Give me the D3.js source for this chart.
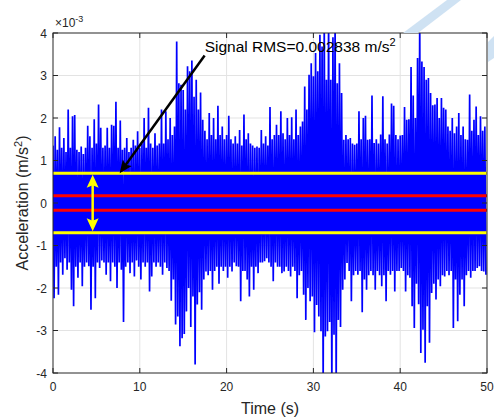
<!DOCTYPE html>
<html>
<head>
<meta charset="utf-8">
<script src="https://cdn.jsdelivr.net/npm/d3@7"></script>
<style>
  html, body { margin: 0; padding: 0; background: #fff; }
  svg { display: block; font-family: "Liberation Sans", Arial, Helvetica, sans-serif; }
</style>
</head>
<body>
<svg id="chart" width="494" height="417"></svg>
<script>
// Peak envelope of the acceleration record, one value per 0.25 s bin (units of 1e-3 m/s^2)
const binWidth = 0.25;
const upperPeaks = [
  1.35, 1.57, 1.25, 1.78,   1.30, 1.53, 1.20, 2.20,   1.30, 2.04, 2.07, 1.25,   1.20, 1.33, 1.15, 1.30,
  1.82, 1.57, 1.30, 1.97,   1.40, 2.32, 1.77, 1.30,   1.35, 1.77, 1.30, 1.84,   1.82, 2.38, 1.30, 1.94,
  1.25, 1.30, 1.53, 1.20,   1.30, 1.49, 1.35, 1.69,   1.30, 1.40, 2.00, 1.30,   2.24, 1.40, 1.30, 1.64,
  1.35, 1.40, 2.20, 1.40,   2.16, 1.50, 2.00, 1.60,   1.80, 3.80, 2.82, 2.78,   2.66, 2.20, 3.22, 3.10,
  3.35, 2.50, 2.90, 2.20,   2.60, 1.96, 1.70, 1.50,   2.12, 1.60, 2.00, 1.50,   2.29, 1.60, 1.80, 1.50,
  1.60, 2.05, 1.50, 1.40,   1.57, 1.40, 1.72, 1.35,   2.08, 1.50, 1.64, 1.40,   1.35, 1.30, 1.33, 1.30,
  1.72, 1.40, 1.57, 1.35,   2.26, 1.50, 1.60, 1.84,   1.60, 2.16, 1.64, 1.50,   2.00, 1.60, 2.02, 1.50,
  2.20, 1.60, 1.80, 1.92,   2.74, 2.20, 3.02, 3.29,   2.98, 3.53, 3.10, 3.96,   3.68, 4.30, 2.90, 4.30,
  2.90, 3.90, 4.30, 2.82,   3.29, 2.59, 1.49, 1.60,   1.50, 1.53, 1.40, 1.37,   1.40, 2.16, 1.50, 2.00,
  2.05, 1.49, 1.50, 2.53,   1.41, 1.50, 1.40, 1.61,   2.51, 1.50, 1.40, 1.61,   2.34, 2.29, 1.60, 1.50,
  1.59, 1.60, 2.26, 1.96,   1.97, 3.20, 2.53, 2.00,   3.41, 4.30, 3.33, 3.20,   2.90, 2.94, 2.59, 2.30,
  2.32, 2.47, 2.00, 2.47,   2.24, 2.20, 1.80, 1.70,   2.00, 1.64, 1.80, 2.12,   1.60, 1.80, 1.50, 1.49,
  2.55, 1.70, 1.96, 2.27,   1.60, 2.04, 1.70, 1.80
];
const lowerPeaks = [
  -2.24, -1.50, -2.16, -1.40,   -1.69, -1.30, -1.57, -1.40,   -2.04, -2.43, -1.50, -1.76,   -1.40, -1.96, -1.50, -1.40,
  -1.49, -2.51, -1.50, -2.24,   -1.40, -1.53, -1.35, -1.40,   -1.69, -1.40, -1.84, -1.40,   -1.50, -2.00, -1.40, -1.57,
  -2.80, -1.50, -1.40, -1.65,   -1.40, -1.73, -1.35, -1.50,   -1.80, -1.40, -1.50, -1.40,   -2.08, -1.73, -1.40, -1.50,
  -1.40, -1.50, -1.69, -1.40,   -1.53, -1.60, -2.30, -1.80,   -2.86, -2.67, -3.37, -3.18,   -3.08, -2.55, -2.00, -2.92,
  -2.20, -3.80, -2.39, -2.10,   -2.51, -1.80, -1.61, -1.70,   -1.60, -2.04, -1.60, -1.50,   -1.90, -1.50, -1.60, -1.50,
  -1.76, -1.50, -1.61, -1.40,   -1.49, -1.50, -2.31, -1.60,   -1.60, -1.80, -2.20, -1.50,   -2.04, -1.50, -1.65, -1.40,
  -1.40, -1.37, -1.30, -1.40,   -1.50, -1.84, -1.40, -1.50,   -1.50, -1.65, -1.61, -1.50,   -1.60, -1.73, -1.50, -1.60,
  -2.24, -1.70, -1.60, -2.16,   -2.75, -2.00, -2.31, -2.20,   -3.04, -2.40, -2.67, -3.02,   -4.30, -3.14, -3.02, -2.80,
  -4.30, -3.10, -4.30, -2.75,   -2.92, -2.04, -1.80, -1.41,   -1.60, -2.31, -1.70, -1.60,   -1.69, -1.60, -2.57, -1.80,
  -2.04, -1.70, -1.60, -1.70,   -2.04, -1.60, -1.70, -1.96,   -1.70, -2.31, -1.60, -1.69,   -1.60, -2.08, -1.60, -1.60,
  -1.53, -1.60, -2.08, -1.70,   -1.76, -2.43, -2.94, -1.90,   -2.38, -3.53, -2.98, -3.76,   -2.43, -3.29, -2.12, -1.90,
  -2.27, -1.80, -1.96, -1.70,   -1.73, -1.60, -1.70, -1.60,   -2.94, -1.80, -2.78, -2.16,   -1.80, -2.43, -1.70, -1.60,
  -1.76, -1.60, -1.60, -1.53,   -1.49, -1.60, -1.61, -1.69
];

// Reference levels (1e-3 m/s^2)
const rmsBand = [0.70, -0.70];
const meanBand = [0.17, -0.17];

// Axis ticks
const xTicks = [0, 10, 20, 30, 40, 50];
const yTicks = [-4, -3, -2, -1, 0, 1, 2, 3, 4];

// Annotation
const noteText = "Signal RMS=0.002838 m/s";
const noteTail = [17.47, 3.47];
const noteHead = [7.68, 0.70];
const bandArrowX = 4.57;

const svg = d3.select("#chart");
const margin = { left: 53, top: 33, right: 7, bottom: 44 };
const W = 494 - margin.left - margin.right;
const H = 417 - margin.top - margin.bottom;

const x = d3.scaleLinear().domain([0, 50]).range([0, W]);
const y = d3.scaleLinear().domain([-4, 4]).range([H, 0]);

const g = svg.append("g").attr("transform", `translate(${margin.left},${margin.top})`);

svg.append("defs").append("clipPath").attr("id", "plotClip")
  .append("rect").attr("width", W).attr("height", H);

// grid
g.append("g").selectAll("line").data(xTicks.slice(1, -1)).join("line")
  .attr("x1", d => x(d)).attr("x2", d => x(d)).attr("y1", 0).attr("y2", H)
  .attr("stroke", "#e3e3e3").attr("stroke-width", 1);
g.append("g").selectAll("line").data(yTicks.slice(1, -1)).join("line")
  .attr("y1", d => y(d)).attr("y2", d => y(d)).attr("x1", 0).attr("x2", W)
  .attr("stroke", "#e3e3e3").attr("stroke-width", 1);

const plot = g.append("g").attr("clip-path", "url(#plotClip)");

// signal trace: alternate between the upper and lower peak of each bin
const trace = [];
upperPeaks.forEach((u, i) => {
  trace.push([i * binWidth, u]);
  trace.push([i * binWidth + binWidth / 2, lowerPeaks[i]]);
});
plot.append("path")
  .attr("d", d3.line().x(d => x(d[0])).y(d => y(d[1]))(trace))
  .attr("fill", "none").attr("stroke", "#0000ff").attr("stroke-width", 1.7)
  .attr("stroke-linejoin", "miter").attr("stroke-miterlimit", 1);

// reference levels
plot.selectAll(".mean").data(meanBand).join("line").attr("class", "mean")
  .attr("x1", 0).attr("x2", W).attr("y1", d => y(d)).attr("y2", d => y(d))
  .attr("stroke", "#ff0000").attr("stroke-width", 3);
plot.selectAll(".rms").data(rmsBand).join("line").attr("class", "rms")
  .attr("x1", 0).attr("x2", W).attr("y1", d => y(d)).attr("y2", d => y(d))
  .attr("stroke", "#ffff00").attr("stroke-width", 3);

// arrowhead drawn pointing along +x at the origin; placed with rotate/translate
function arrowHead(sel, px, py, angleDeg, color, len, half) {
  const back = len * 0.8;
  sel.append("path")
    .attr("d", `M0,0 L${-len},${-half} L${-back},0 L${-len},${half} Z`)
    .attr("transform", `translate(${px},${py}) rotate(${angleDeg})`)
    .attr("fill", color);
}

// double-headed yellow arrow spanning the RMS band
const ax = x(bandArrowX);
const yTop = y(rmsBand[0]) + 1.5, yBot = y(rmsBand[1]) - 1.5;
g.append("line").attr("x1", ax).attr("x2", ax).attr("y1", yTop + 8).attr("y2", yBot - 8)
  .attr("stroke", "#ffff00").attr("stroke-width", 2.5);
arrowHead(g, ax, yTop, -90, "#ffff00", 13, 6);
arrowHead(g, ax, yBot, 90, "#ffff00", 13, 6);

// black pointer to the RMS level
const tx = x(noteTail[0]), ty = y(noteTail[1]);
const hx = x(noteHead[0]), hy = y(noteHead[1]);
const ang = Math.atan2(hy - ty, hx - tx) * 180 / Math.PI;
const dl = Math.hypot(hx - tx, hy - ty);
g.append("line").attr("x1", tx).attr("y1", ty)
  .attr("x2", hx - (hx - tx) / dl * 8).attr("y2", hy - (hy - ty) / dl * 8)
  .attr("stroke", "#000").attr("stroke-width", 2.5);
arrowHead(g, hx, hy, ang, "#000", 13, 5.5);

// annotation text
const note = g.append("text").attr("x", tx).attr("y", ty - 3.5)
  .attr("font-size", 15.5).attr("fill", "#000").text(noteText);
note.append("tspan").attr("dy", -6).attr("font-size", 11).text("2");

// axes box with inward ticks
const axisColor = "#262626";
const tickLen = 5;
g.append("rect").attr("width", W).attr("height", H).attr("fill", "none")
  .attr("stroke", axisColor).attr("stroke-width", 1);
const ticks = g.append("g").attr("stroke", axisColor).attr("stroke-width", 1);
xTicks.forEach(t => {
  ticks.append("line").attr("x1", x(t)).attr("x2", x(t)).attr("y1", H).attr("y2", H - tickLen);
  ticks.append("line").attr("x1", x(t)).attr("x2", x(t)).attr("y1", 0).attr("y2", tickLen);
});
yTicks.forEach(t => {
  ticks.append("line").attr("y1", y(t)).attr("y2", y(t)).attr("x1", 0).attr("x2", tickLen);
  ticks.append("line").attr("y1", y(t)).attr("y2", y(t)).attr("x1", W).attr("x2", W - tickLen);
});

// tick labels
g.append("g").selectAll("text").data(xTicks).join("text")
  .attr("x", d => x(d)).attr("y", H + 18).attr("text-anchor", "middle")
  .attr("font-size", 12).attr("fill", axisColor).text(d => d);
g.append("g").selectAll("text").data(yTicks).join("text")
  .attr("x", -6).attr("y", d => y(d) + 4.5).attr("text-anchor", "end")
  .attr("font-size", 12).attr("fill", axisColor).text(d => d);

// exponent label
const ex = g.append("text").attr("x", 2).attr("y", -6).attr("font-size", 12).attr("fill", axisColor);
ex.append("tspan").text("\u00d710");
ex.append("tspan").attr("dy", -5).attr("font-size", 9).text("-3");

// axis titles
svg.append("text").attr("x", margin.left + W / 2).attr("y", 414)
  .attr("text-anchor", "middle").attr("font-size", 16).attr("fill", axisColor).text("Time (s)");
const yl = svg.append("text")
  .attr("transform", `translate(28,${margin.top + H / 2}) rotate(-90)`)
  .attr("text-anchor", "middle").attr("font-size", 16).attr("fill", axisColor);
yl.append("tspan").text("Acceleration (m/s");
yl.append("tspan").attr("dy", -6).attr("font-size", 11).text("2");
yl.append("tspan").attr("dy", 6).text(")");

// pale blue mark in the top-right corner
svg.append("path")
  .attr("d", "M403,33 L418,33 L461,0 L447,0 Z")
  .attr("fill", "#cfe2f3");
svg.append("path")
  .attr("d", "M488,42 L494,36 L494,58 L488,62 Z")
  .attr("fill", "#cfe2f3");
</script>
</body>
</html>
